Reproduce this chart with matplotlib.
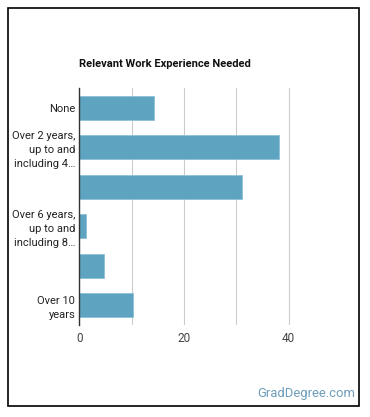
import matplotlib
matplotlib.use("Agg")
import matplotlib.pyplot as plt
from matplotlib.patches import Rectangle

plt.rcParams['font.family'] = ['Roboto', 'DejaVu Sans']

# data
categories = ["None",
              "Over 2 years, up to and including 4 years",
              "Over 4 years, up to and including 6 years",
              "Over 6 years, up to and including 8 years",
              "Over 8 years, up to and including 10 years",
              "Over 10 years"]
values = [14.3, 38.2, 31.0, 1.2, 4.8, 10.3]
# google charts skips every other long label
tick_labels = ["None", "Over 2 years,\nup to and\nincluding 4\u2026", "",
               "Over 6 years,\nup to and\nincluding 8\u2026", "", "Over 10\nyears"]
x_ticks = [0, 20, 40]

fig = plt.figure(figsize=(3.7, 4.17), dpi=100)
W, H = 370, 417

# outer frame
fig.patches.append(Rectangle((7.5 / W, 1 - 406 / H), 351.5 / W, 398 / H,
                             transform=fig.transFigure, fill=False,
                             edgecolor="black", linewidth=1.2))

ax = fig.add_axes([79.3 / W, 1 - 325 / H, (341 - 79.3) / W, (325 - 88) / H])
y = list(range(len(categories)))
ax.barh(y, values, height=0.61, color="#5ea3bf", edgecolor="#8cc0d6", linewidth=0.6, zorder=3)
ax.set_ylim(len(categories) - 0.5, -0.5)
ax.set_xlim(0, 50)
ax.set_yticks(y)
ax.set_yticklabels(tick_labels, fontsize=8.0, color="#222222", linespacing=1.5)
ax.set_xticks(x_ticks)
ax.set_xticklabels([str(t) for t in x_ticks], fontsize=8.5, color="#444444")
ax.set_xticks([10, 30], minor=True)
ax.grid(axis="x", which="both", color="#cccccc", linewidth=0.8, zorder=0)
ax.tick_params(which="both", length=0, pad=3)
ax.tick_params(axis="x", pad=5)
for s in ["top", "right", "bottom"]:
    ax.spines[s].set_visible(False)
ax.spines["left"].set_color("#333333")
ax.spines["left"].set_linewidth(1.0)
ax.spines["left"].set_zorder(4)

fig.text(79 / W, 1 - 64 / H, "Relevant Work Experience Needed", fontsize=8,
         fontweight="bold", color="#111111", va="center", ha="left")
fig.text(355 / W, 1 - 394 / H, "GradDegree.com", fontsize=9.4, color="#6d9cba",
         va="center", ha="right")

fig.savefig("out.png", dpi=100)
